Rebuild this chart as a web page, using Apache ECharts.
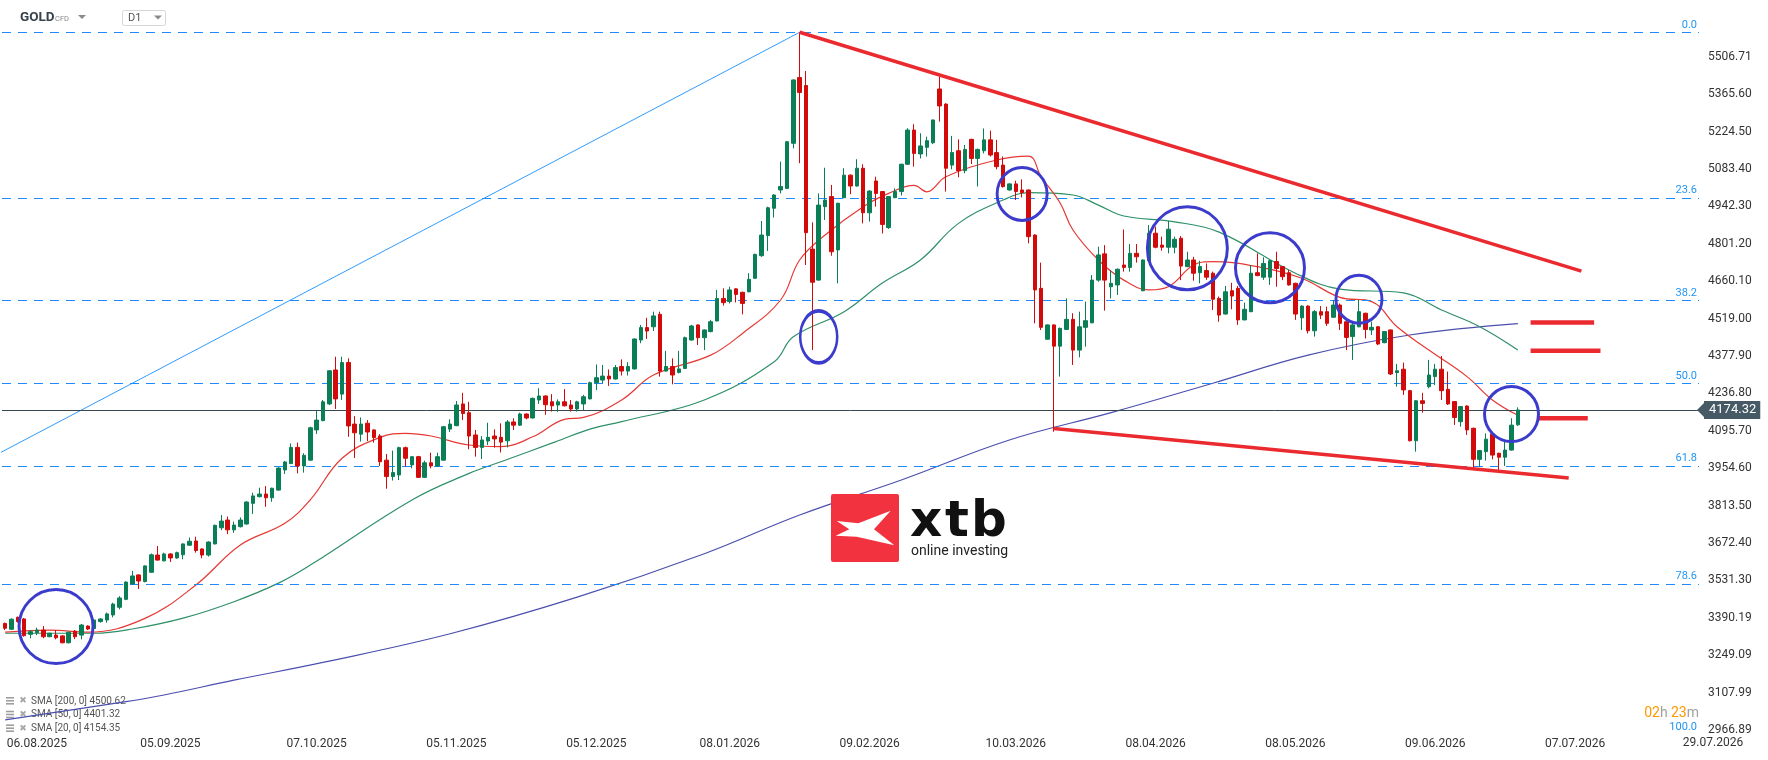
<!DOCTYPE html>
<html><head><meta charset="utf-8">
<script src="https://cdn.jsdelivr.net/npm/echarts@6/dist/echarts.min.js"></script>
<style>html,body{margin:0;padding:0;background:#fff;}#c{width:1768px;height:760px;}</style>
</head><body><div id="c"></div>
<script>
// ---------- data ----------
const OPEN = [3369,3347,3392,3386,3328,3334,3344,3319,3325,3322,3296,3340,3325,3359,3350,3376,3382,3401,3430,3460,3518,3552,3527,3562,3627,3605,3631,3616,3628,3664,3680,3650,3627,3669,3730,3759,3722,3734,3744,3822,3847,3857,3843,3872,3948,3972,4033,3963,
3985,4099,4134,4197,4325,4234,4353,4121,4083,4124,4099,4076,3985,3923,3929,4032,3967,3998,3920,3975,3963,3985,4102,4115,4197,4164,4080,4033,4057,4076,4071,4058,4129,4117,4159,4144,4212,4227,4205,4193,4205,4193,4178,4197,4216,4277,4287,4302,4291,
4338,4321,4329,4438,4485,4488,4535,4321,4338,4316,4331,4438,4495,4447,4470,4510,4595,4583,4631,4618,4620,4671,4756,4832,4935,5004,5010,5180,5428,5398,4781,4664,4941,4979,4778,4975,5060,5019,5086,4918,5038,4998,4862,4975,4998,5101,5230,
5140,5165,5182,5385,5328,5098,5152,5077,5195,5123,5152,5193,5145,5098,5004,5027,5004,5004,4834,4633,4441,4495,4415,4478,4516,4400,4486,4503,4664,4763,4639,4646,4721,4712,4765,4624,4737,4841,4796,4788,4788,4822,4715,4740,4692,4700,4690,
4595,4536,4624,4633,4514,4545,4692,4675,4675,4734,4715,4692,4652,4522,4566,4473,4545,4545,4524,4570,4507,4451,4488,4539,4476,4488,4428,4476,4315,4328,4247,4058,4209,4262,4300,4328,4252,4206,4130,4189,4105,3988,4017,4084,4011,3996,4023,4118];
const CLOSE = [3351,3385,3376,3323,3338,3344,3319,3332,3315,3296,3336,3319,3363,3348,3382,3386,3405,3442,3465,3525,3548,3529,3586,3628,3608,3631,3616,3636,3669,3679,3644,3627,3676,3739,3755,3722,3740,3759,3827,3850,3857,3843,3879,3955,3978,4033,3963,4003,
4107,4136,4205,4322,4216,4353,4114,4088,4121,4091,4070,3979,3923,3938,4032,3992,3998,3920,3975,3963,3998,4111,4121,4193,4161,4076,4033,4061,4071,4065,4053,4129,4117,4159,4144,4218,4227,4194,4190,4205,4190,4178,4205,4224,4277,4296,4302,4291,4334,
4321,4338,4442,4485,4472,4529,4321,4338,4306,4329,4447,4491,4447,4476,4507,4595,4579,4627,4610,4576,4667,4761,4834,4937,4985,5017,5186,5419,5372,4843,4656,4947,4966,4771,4954,5060,5019,5086,4918,5000,4991,4874,4979,4998,5101,5230,5142,
5170,5190,5268,5321,5086,5145,5077,5157,5123,5157,5193,5136,5092,5017,5027,4998,4994,4828,4627,4486,4495,4415,4482,4516,4400,4488,4511,4664,4759,4664,4652,4705,4712,4765,4752,4740,4841,4788,4788,4856,4818,4717,4740,4690,4715,4675,4592,
4532,4620,4604,4514,4554,4690,4681,4727,4737,4708,4677,4646,4536,4566,4473,4545,4532,4501,4570,4501,4448,4495,4545,4478,4486,4423,4470,4310,4322,4250,4058,4209,4199,4306,4328,4247,4197,4146,4187,4099,3988,4021,4064,4004,3996,4023,4117,4174.32];
const LOW = [3344,3344,3372,3319,3313,3325,3313,3317,3309,3294,3294,3310,3309,3344,3347,3372,3372,3392,3422,3457,3514,3499,3524,3560,3606,3603,3601,3613,3611,3662,3636,3615,3621,3667,3721,3706,3711,3731,3742,3782,3845,3809,3828,3870,3933,3970,3935,3938,
3983,4084,4132,4193,4178,4212,4073,3993,4055,4057,4051,3963,3877,3908,3910,3960,3954,3918,3918,3954,3960,3983,4091,4113,4136,4026,3998,3989,4042,4032,4014,4033,4099,4114,4139,4142,4197,4156,4168,4167,4187,4168,4168,4174,4214,4249,4275,4265,4289,
4304,4304,4327,4426,4442,4472,4300,4319,4271,4312,4329,4436,4419,4400,4467,4508,4568,4576,4580,4535,4618,4669,4752,4774,4900,4991,5008,5161,5105,4721,4400,4662,4891,4756,4652,4973,4988,5017,4878,4885,4941,4840,4857,4973,4983,5098,5092,
5123,5130,5177,5262,4998,5082,5052,5067,5102,5017,5142,5130,5082,5013,5001,4966,4976,4803,4501,4476,4440,4092,4300,4476,4344,4373,4413,4501,4658,4549,4595,4608,4696,4696,4730,4622,4735,4784,4775,4765,4765,4664,4713,4662,4652,4665,4551,
4507,4534,4554,4495,4512,4543,4679,4665,4646,4639,4664,4643,4514,4476,4463,4451,4517,4491,4522,4476,4400,4363,4486,4444,4457,4419,4426,4306,4262,4231,4056,4017,4164,4256,4268,4212,4193,4118,4111,4080,3954,3960,3983,3988,3948,3963,4021,4114];
const HIGH = [3372,3388,3395,3389,3344,3353,3359,3334,3344,3324,3338,3344,3367,3362,3385,3388,3410,3447,3472,3528,3567,3554,3588,3633,3661,3636,3634,3640,3671,3693,3696,3652,3679,3742,3778,3772,3753,3769,3830,3862,3881,3887,3881,3958,3982,4048,4051,4011,
4111,4170,4212,4325,4375,4375,4369,4151,4146,4136,4101,4083,4008,4021,4036,4036,3998,4001,3983,4013,4013,4114,4139,4208,4239,4205,4099,4076,4126,4101,4124,4136,4143,4164,4161,4221,4256,4229,4234,4214,4253,4212,4209,4231,4281,4346,4344,4327,4344,
4365,4354,4444,4495,4522,4545,4545,4397,4369,4397,4451,4495,4497,4478,4514,4627,4633,4639,4633,4620,4690,4764,4887,4941,4988,5111,5189,5421,5599,5453,4882,4991,5088,5023,4956,5086,5063,5120,5101,5003,5054,5000,4981,5010,5103,5237,5252,
5218,5205,5270,5431,5331,5208,5195,5174,5197,5160,5236,5228,5193,5130,5029,5039,5044,5006,4837,4730,4497,4497,4485,4595,4539,4545,4583,4683,4790,4796,4702,4708,4855,4800,4800,4742,4872,4866,4828,4887,4828,4830,4771,4752,4737,4727,4696,
4602,4642,4654,4642,4579,4721,4765,4750,4740,4771,4717,4702,4654,4569,4569,4551,4566,4564,4589,4576,4510,4507,4589,4541,4507,4491,4472,4478,4348,4353,4250,4212,4239,4363,4348,4378,4319,4208,4189,4192,4108,4023,4086,4086,4013,4055,4143,4184];

// moving averages as [candle index, value]
const SMA20_PTS = [[0,3336],[7,3344],[13,3336],[22,3388],[30,3514],[37,3665],[44,3747],[48,3835],[53,3992],[59,4071],[63,4086],[67,4076],[73,4042],[78,4036],[83,4073],[88,4139],[91,4146],[97,4212],[102,4306],[111,4381],[116,4463],[122,4589],[125,4740],[129,4834],[135,4941],[139,4991],[143,5021],[145,4997],[148,5054],[156,5117],[161,5132],[163,5054],[166,4954],[168,4853],[172,4740],[176,4664],[180,4627],[183,4639],[187,4721],[190,4734],[197,4715],[204,4671],[210,4599],[215,4583],[219,4488],[224,4400],[230,4300],[234,4212],[238,4154]];
const SMA50_PTS = [[0,3332],[14,3332],[20,3348],[28,3389],[36,3451],[43,3521],[48,3589],[64,3835],[73,3935],[78,3979],[86,4049],[92,4102],[97,4130],[110,4212],[121,4356],[124,4450],[132,4545],[138,4653],[144,4740],[150,4878],[157,4966],[161,4994],[168,4985],[172,4947],[176,4906],[184,4884],[191,4845],[203,4690],[210,4630],[220,4616],[226,4551],[232,4488],[238,4400]];
const SMA200_PTS = [[0,3005],[19,3074],[25,3099],[36,3155],[50,3222],[70,3330],[90,3468],[110,3632],[125,3778],[141,3910],[158,4061],[174,4164],[190,4275],[205,4381],[221,4457],[238,4500]];
const SMA_LEGEND = [['SMA [200, 0]', '4500.62'], ['SMA [50, 0]', '4401.32'], ['SMA [20, 0]', '4154.35']];

// axes
const N_CAT = 267;
const X_LABELS = ['06.08.2025','05.09.2025','07.10.2025','05.11.2025','05.12.2025','08.01.2026','09.02.2026','10.03.2026','08.04.2026','08.05.2026','09.06.2026','07.07.2026'];
const X_LABEL_IDX = [5,26,49,71,93,114,136,159,181,203,225,247];
const X_END_LABEL = '29.07.2026';
const Y_TICKS = [2966.89,3107.99,3249.09,3390.19,3531.30,3672.40,3813.50,3954.60,4095.70,4236.80,4377.90,4519.00,4660.10,4801.20,4942.30,5083.40,5224.50,5365.60,5506.71];
const Y_MIN = 2948.2, Y_MAX = 5720.6;
const LAST_PRICE = 4174.32;

// drawing tools on the chart
const FIB_HIGH = 5598.8, FIB_LOW = 2951.0;
const FIB_LEVELS = [0, 23.6, 38.2, 50.0, 61.8, 78.6, 100.0];
const FIB_ANCHORS = [[-85, 2951.0], [125, 5598.8]];
const TREND_TOP = [[125, 5598.8], [248.2, 4698]];
const TREND_BOTTOM = [[165, 4104], [245.8, 3918]];
const LEVEL_MARKS = [[240.2, 249.6, 4504], [240.4, 250.8, 4398], [241.2, 249.0, 4143]];
const CIRCLES = [[7.8,3357],[127.5,4450],[159.7,4989],[185.5,4784],[198.6,4711],[212.5,4592],[237.2,4159]];
const CIRCLE_SIZES = [[74,74],[37,52],[50,53],[80,83],[69,70],[46,48],[54,55]];

// ---------- chart ----------
const FONT = 'Roboto';
const UP = '#0a7e55', DOWN = '#d20a0a', TREND = '#ea2a2f';
const categories = Array.from({length: N_CAT}, (_, i) => { const k = X_LABEL_IDX.indexOf(i); return k >= 0 ? X_LABELS[k] : ''; });
const candleData = OPEN.map((o, i) => [o, CLOSE[i], LOW[i], HIGH[i]]);
const fibData = FIB_LEVELS.map(l => {
  const d = { yAxis: FIB_HIGH - (FIB_HIGH - FIB_LOW) * l / 100, name: l.toFixed(1) };
  if (l === 100) d.lineStyle = { color: 'rgba(0,0,0,0)' };
  return d;
});

const chart = echarts.init(document.getElementById('c'));
const series = [
  { name: 'fib', type: 'line', data: FIB_ANCHORS, symbol: 'none', silent: true, z: 2,
    lineStyle: { color: '#2f9bff', width: 1 },
    markLine: { symbol: ['none','none'], silent: true, animation: false,
      lineStyle: { color: '#1a8cff', width: 1.2, type: [9, 7] },
      label: { position: 'insideEndTop', formatter: '{b}', color: '#2196f3', fontSize: 11, fontFamily: FONT, distance: [2, 2] },
      data: fibData } },
  { name: 'SMA200', type: 'line', data: SMA200_PTS, smooth: 0.4, symbol: 'none', silent: true, z: 3, lineStyle: { color: '#4b4fae', width: 1.2 } },
  { name: 'SMA50', type: 'line', data: SMA50_PTS, smooth: 0.4, symbol: 'none', silent: true, z: 3, lineStyle: { color: '#2e9068', width: 1.2 } },
  { name: 'SMA20', type: 'line', data: SMA20_PTS, smooth: 0.4, symbol: 'none', silent: true, z: 3, lineStyle: { color: '#e53935', width: 1.2 } },
  { name: 'GOLD', type: 'candlestick', data: candleData, barWidth: 4, z: 5, silent: true,
    itemStyle: { color: UP, color0: DOWN, borderColor: UP, borderColor0: DOWN, borderWidth: 1 },
    markLine: { symbol: ['none','none'], silent: true, animation: false,
      lineStyle: { color: '#37474f', width: 1, type: 'solid' },
      label: { position: 'end', formatter: LAST_PRICE.toFixed(2), color: '#fff', backgroundColor: '#455a64', padding: [3, 4, 2, 5], fontSize: 13, fontFamily: FONT, distance: 5 },
      data: [{ yAxis: LAST_PRICE }] } },
  { name: 'trendTop', type: 'line', data: TREND_TOP, symbol: 'none', silent: true, z: 8, lineStyle: { color: TREND, width: 3.5 } },
  { name: 'trendBottom', type: 'line', data: TREND_BOTTOM, symbol: 'none', silent: true, z: 8, lineStyle: { color: TREND, width: 3.5 } },
  ...LEVEL_MARKS.map(m => ({ type: 'line', data: [[m[0], m[2]], [m[1], m[2]]], symbol: 'none', silent: true, z: 8, lineStyle: { color: TREND, width: 4.5 } })),
  { name: 'marks', type: 'scatter', silent: true, z: 10, symbol: 'circle',
    data: CIRCLES.map((c, i) => ({ value: c, symbolSize: CIRCLE_SIZES[i] })),
    itemStyle: { color: 'rgba(0,0,0,0)', borderColor: '#3b3bcc', borderWidth: 3, opacity: 1 } }
];

chart.setOption({
  animation: false,
  backgroundColor: '#ffffff',
  grid: { left: 2, right: 69, top: 0, bottom: 25, containLabel: false },
  xAxis: { type: 'category', data: categories, boundaryGap: true,
    axisLine: { show: false }, axisTick: { show: false }, splitLine: { show: false },
    axisLabel: { interval: 0, color: '#333', fontSize: 12, fontFamily: FONT, margin: 3 } },
  yAxis: { type: 'value', position: 'right', min: Y_MIN, max: Y_MAX,
    axisLine: { show: false }, axisTick: { show: false }, splitLine: { show: false },
    axisLabel: { customValues: Y_TICKS, formatter: v => v.toFixed(2), color: '#333', fontSize: 12, fontFamily: FONT, margin: 9 } },
  series
});

// ---------- overlay chrome (header, legend, logo) ----------
const yLast = chart.convertToPixel({ yAxisIndex: 0 }, LAST_PRICE);
const gfx = [];
gfx.push({ type: 'text', left: 20, top: 11, style: { text: 'GOLD', font: 'bold 13.5px Roboto', fill: '#37424c' } });
gfx.push({ type: 'text', left: 55, top: 15, style: { text: 'CFD', font: '7.5px Roboto', fill: '#8a8a8a' } });
gfx.push({ type: 'polygon', shape: { points: [[78,15],[86,15],[82,19]] }, style: { fill: '#8a8a8a' } });
gfx.push({ type: 'rect', shape: { x: 122.5, y: 10.5, width: 43, height: 15, r: 2 }, style: { fill: '#fff', stroke: '#d6d6d6', lineWidth: 1 } });
gfx.push({ type: 'text', left: 128, top: 13, style: { text: 'D1', font: '11px Roboto', fill: '#555' } });
gfx.push({ type: 'polygon', shape: { points: [[154,15.5],[162,15.5],[158,19.5]] }, style: { fill: '#8a8a8a' } });
// price tag arrow
gfx.push({ type: 'polygon', z: 100, shape: { points: [[1697, yLast], [1705, yLast - 8], [1705, yLast + 8]] }, style: { fill: '#455a64' } });
// legend of indicators
SMA_LEGEND.forEach((s, k) => {
  const y = 701 + k * 13.7;
  gfx.push({ type: 'rect', shape: { x: 6, y: y - 4, width: 8, height: 1.6 }, style: { fill: '#9e9e9e' } });
  gfx.push({ type: 'rect', shape: { x: 6, y: y - 1, width: 8, height: 1.6 }, style: { fill: '#9e9e9e' } });
  gfx.push({ type: 'rect', shape: { x: 6, y: y + 2, width: 8, height: 1.6 }, style: { fill: '#9e9e9e' } });
  gfx.push({ type: 'text', x: 23, y: y, style: { text: '✖', font: 'bold 9px "DejaVu Sans"', fill: '#a8a8a8', align: 'center', verticalAlign: 'middle' } });
  gfx.push({ type: 'text', x: 31, y: y, style: { text: s[0] + ' ' + s[1], font: '10px Roboto', fill: '#555', verticalAlign: 'middle' } });
});
// countdown and end date
gfx.push({ type: 'text', x: 1699, y: 713, style: { text: '{o|02}{g|h} {o|23}{g|m}', align: 'right', verticalAlign: 'middle',
  rich: { o: { fontSize: 14, fontFamily: FONT, fill: '#ff9800' }, g: { fontSize: 14, fontFamily: FONT, fill: '#a0a0a0' } } } });
gfx.push({ type: 'text', x: 1713, y: 743, style: { text: X_END_LABEL, font: '12px Roboto', fill: '#333', align: 'center', verticalAlign: 'middle' } });
// xtb logo
gfx.push({ type: 'rect', z: 50, shape: { x: 831, y: 494, width: 68, height: 68, r: 2 }, style: { fill: '#f3323f' } });
gfx.push({ type: 'polygon', z: 51, shape: { points: [[836.7,521],[858.3,523.3],[890.7,510.7],[874,529.3],[894.3,545.3],[856.7,536.7],[835.7,535.7],[849.3,529.3]] }, style: { fill: '#fff' } });
[['x', 910], ['t', 945], ['b', 971]].forEach(p => gfx.push({ type: 'text', z: 50, x: p[1], y: 523, style: { text: p[0], font: 'bold 50px "DejaVu Sans"', fill: '#111', verticalAlign: 'middle' } }));
gfx.push({ type: 'text', z: 50, x: 911, y: 551, style: { text: 'online investing', font: '14px Roboto', fill: '#222', verticalAlign: 'middle' } });

chart.setOption({ graphic: gfx });
</script></body></html>
